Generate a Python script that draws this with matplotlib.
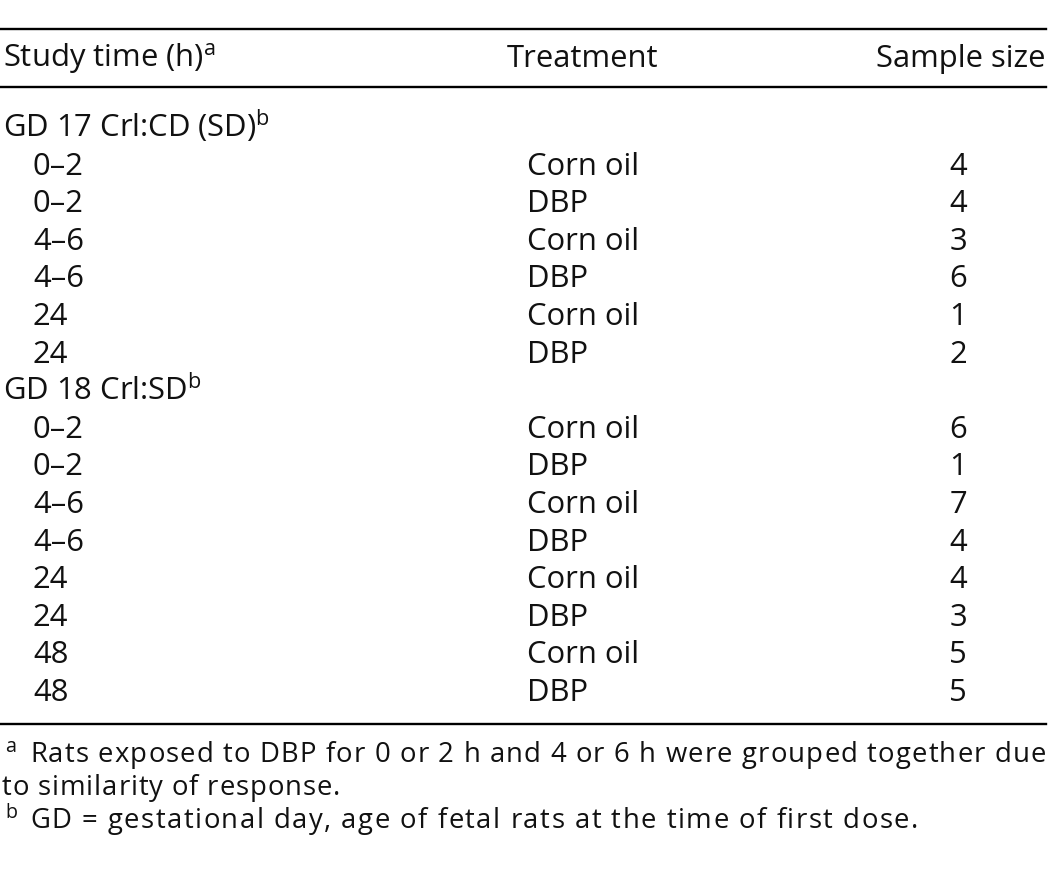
import matplotlib.pyplot as plt
from matplotlib.lines import Line2D

plt.rcParams['font.family'] = ['Open Sans', 'DejaVu Sans']
plt.rcParams['mathtext.fontset'] = 'custom'
plt.rcParams['mathtext.rm'] = 'Open Sans'
plt.rcParams['mathtext.it'] = 'Open Sans'

headers = ['Study time (h)$^{\\mathrm{a}}$', 'Treatment', 'Sample size']
groups = ['GD 17 Crl:CD (SD)$^{\\mathrm{b}}$', 'GD 18 Crl:SD$^{\\mathrm{b}}$']
study_time = [
    ['0\u20132', '0\u20132', '4\u20136', '4\u20136', '24', '24'],
    ['0\u20132', '0\u20132', '4\u20136', '4\u20136', '24', '24', '48', '48'],
]
treatment = [
    ['Corn oil', 'DBP', 'Corn oil', 'DBP', 'Corn oil', 'DBP'],
    ['Corn oil', 'DBP', 'Corn oil', 'DBP', 'Corn oil', 'DBP', 'Corn oil', 'DBP'],
]
sample_size = [
    [4, 4, 3, 6, 1, 2],
    [6, 1, 7, 4, 4, 3, 5, 5],
]
note_marks = ['a', '', 'b']
footnotes = [
    'Rats exposed to DBP for 0 or 2 h and 4 or 6 h were grouped together due',
    'to similarity of response.',
    'GD = gestational day, age of fetal rats at the time of first dose.',
]

W, H = 1050, 871
BODY = 22.3
NOTE = 19.8
fig = plt.figure(figsize=(W / 100, H / 100), dpi=100)
renderer = fig.canvas.get_renderer()


def px(x, y):
    return x / W, 1 - y / H


def put(x, y, s, ha='left', size=BODY):
    return fig.text(*px(x, y), s, ha=ha, va='baseline', fontsize=size,
                    color='#111111')


def rule(y, lw=1.7):
    fig.add_artist(Line2D([0, 1046 / W], [1 - y / H] * 2, color='black',
                          lw=lw, transform=fig.transFigure))


_cw = {}


def char_w(c, size):
    # advance of one character, measured between two x's so spaces count
    if (c, size) not in _cw:
        a = put(0, 0, 'x' + c + 'x', size=size)
        b = put(0, 0, 'xx', size=size)
        _cw[(c, size)] = (a.get_window_extent(renderer).width
                          - b.get_window_extent(renderer).width)
        a.remove()
        b.remove()
    return _cw[(c, size)]


def spaced(x0, x1, y, s, size):
    # the footnotes are set loosely; spread the letters to span x0..x1
    ws = [char_w(c, size) for c in s]
    extra = (x1 - x0 - sum(ws)) / (len(s) - 1)
    x = x0
    for c, w in zip(s, ws):
        if c != ' ':
            put(x, y, c, size=size)
        x += w + extra


rule(29)
rule(87)
rule(724)

# header row
put(3, 67, headers[0])
put(583, 67, headers[1], ha='center')
put(1046, 67, headers[2], ha='right')

y = 137
step = 37.6
for g in range(len(groups)):
    put(3, y, groups[g])
    y += step
    for t, tr, n in zip(study_time[g], treatment[g], sample_size[g]):
        put(33, y, t)
        put(527, y, tr)
        put(967, y, str(n), ha='right')
        y += step

note_y = [762, 795, 828]
note_x = [(30, 1046), (2, 340), (30, 918)]
for mark, note, ny, (x0, x1) in zip(note_marks, footnotes, note_y, note_x):
    if mark:
        put(5, ny - 10, mark, size=NOTE * 0.72)
    spaced(x0, x1, ny, note, NOTE)

fig.savefig('out.png', dpi=100)
